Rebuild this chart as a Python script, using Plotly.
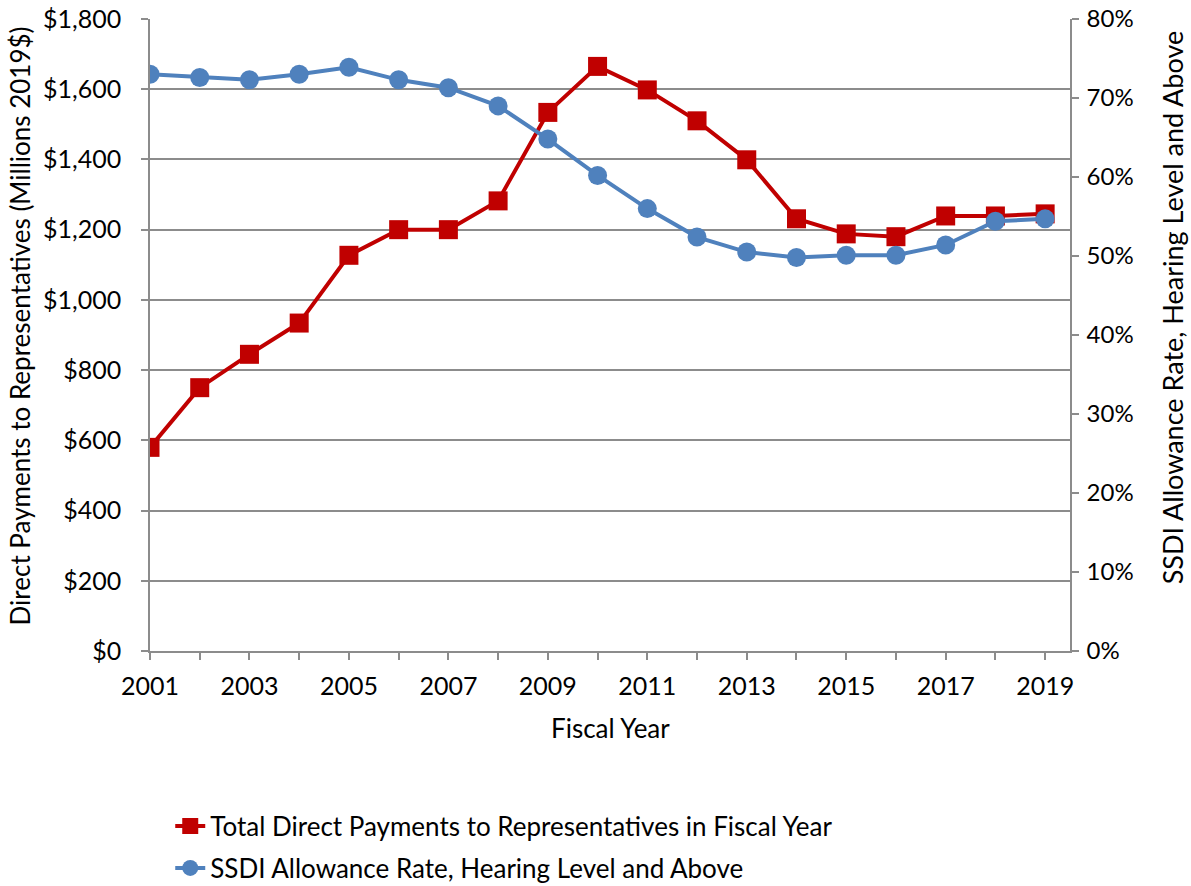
import plotly.graph_objects as go

# Fiscal years on the category axis
years = list(range(2001, 2020))
year_labels = [str(y) if (y - 2001) % 2 == 0 else "" for y in years]

# Total direct payments to representatives, millions of 2019 dollars
payments = [580, 750, 845, 934, 1127, 1200, 1200, 1282, 1534, 1665,
            1598, 1510, 1399, 1231, 1188, 1180, 1239, 1239, 1245]

# SSDI allowance rate, hearing level and above (fraction)
allowance = [0.730, 0.726, 0.723, 0.730, 0.739, 0.723, 0.713, 0.690, 0.648, 0.602,
             0.560, 0.524, 0.505, 0.498, 0.501, 0.501, 0.514, 0.544, 0.547]

RED = "#C00000"
BLUE = "#4F81BD"
GRID = "#8C8C8C"
FONT = "Lato, 'Open Sans', sans-serif"

fig = go.Figure()

fig.add_trace(go.Scatter(
    x=years, y=payments, yaxis="y",
    mode="lines+markers",
    name="Total Direct Payments to Representatives in Fiscal Year",
    line=dict(color=RED, width=4),
    marker=dict(symbol="square", size=19, color=RED),
    legendgroup="a",
))

fig.add_trace(go.Scatter(
    x=years, y=allowance, yaxis="y2",
    mode="lines+markers",
    name="SSDI Allowance Rate, Hearing Level and Above",
    line=dict(color=BLUE, width=4),
    marker=dict(symbol="circle", size=19, color=BLUE),
    legendgroup="b",
))

fig.update_layout(
    width=1191, height=886,
    margin=dict(l=150, r=121, t=19, b=235, autoexpand=False),
    paper_bgcolor="white", plot_bgcolor="white",
    font=dict(family=FONT, size=24, color="#000000"),
    showlegend=True,
    legend=dict(
        x=0.022, y=-0.24, xanchor="left", yanchor="top",
        orientation="v", traceorder="grouped", tracegroupgap=5,
        font=dict(size=26), bgcolor="rgba(0,0,0,0)",
    ),
    xaxis=dict(
        range=[2001, 2019.5],
        tickvals=years, ticktext=year_labels,
        ticks="outside", ticklen=7, tickcolor=GRID, tickwidth=1.5,
        showline=True, linecolor=GRID, linewidth=1.5,
        showgrid=False, zeroline=False,
        tickfont=dict(size=25), ticklabelstandoff=5,
    ),
    yaxis=dict(
        range=[0, 1800], tickmode="linear", tick0=0, dtick=200,
        tickprefix="$", tickformat=",",
        ticks="outside", ticklen=7, tickcolor=GRID, tickwidth=1.5,
        showline=True, linecolor=GRID, linewidth=1.5,
        showgrid=True, gridcolor=GRID, gridwidth=1.5,
        zeroline=False, tickfont=dict(size=25), ticklabelstandoff=15,
    ),
    yaxis2=dict(
        range=[0, 0.8], overlaying="y", side="right",
        tickmode="linear", tick0=0, dtick=0.1, tickformat=".0%",
        ticks="outside", ticklen=7, tickcolor=GRID, tickwidth=1.5,
        showline=True, linecolor=GRID, linewidth=1.5,
        showgrid=False, zeroline=False,
        tickfont=dict(size=24), ticklabelstandoff=3,
    ),
    annotations=[
        dict(text="Direct Payments to Representatives (Millions 2019$)",
             xref="paper", yref="paper", x=-0.141, y=0.514,
             xanchor="center", yanchor="middle", textangle=-90,
             showarrow=False, font=dict(size=26)),
        dict(text="SSDI Allowance Rate, Hearing Level and Above",
             xref="paper", yref="paper", x=1.111, y=0.544,
             xanchor="center", yanchor="middle", textangle=-90,
             showarrow=False, font=dict(size=27)),
        dict(text="Fiscal Year",
             xref="paper", yref="paper", x=0.5, y=-0.122,
             xanchor="center", yanchor="middle",
             showarrow=False, font=dict(size=26)),
    ],
)

fig.write_html("out.html")
